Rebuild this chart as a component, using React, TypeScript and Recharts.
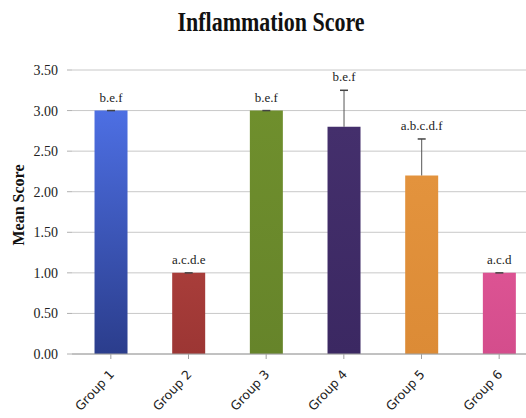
import React from "react";
import { BarChart, Bar, XAxis, YAxis, CartesianGrid, Cell, LabelList } from "recharts";

const groups = ["Group 1", "Group 2", "Group 3", "Group 4", "Group 5", "Group 6"];
const meanScores = [3.0, 1.0, 3.0, 2.8, 2.2, 1.0];
const errUpper = [0, 0, 0, 0.45, 0.45, 0];
const sigLetters = ["b.e.f", "a.c.d.e", "b.e.f", "b.e.f", "a.b.c.d.f", "a.c.d"];
const yTicks = [0, 0.5, 1, 1.5, 2, 2.5, 3, 3.5];

const barTop = ["#4d6fe3", "#a83d3a", "#6f8f2d", "#442f6c", "#e3933d", "#dc5393"];
const barBottom = ["#2b3d8c", "#9c3634", "#66842a", "#3b2862", "#dc8b36", "#d44d8c"];

const data = groups.map((g, i) => ({
  name: g,
  value: meanScores[i],
  letters: sigLetters[i],
}));

const XTick = (props: any) => {
  const { x, y, payload } = props;
  const ax = x + 4;
  const ay = y + 14;
  return (
    <text
      x={ax}
      y={ay}
      textAnchor="end"
      transform={`rotate(-47 ${ax} ${ay})`}
      fontFamily="'DejaVu Sans', sans-serif"
      fontSize={12.5}
      fill="#222"
    >
      {payload.value}
    </text>
  );
};

const YTick = (props: any) => {
  const { x, y, payload } = props;
  return (
    <text x={x} y={y + 5} textAnchor="end" fontFamily="'Liberation Serif', serif" fontSize={14} fill="#222">
      {Number(payload.value).toFixed(2)}
    </text>
  );
};

// Upper error whisker + significance letters, positioned from the bar geometry
const LetterLabel = (props: any) => {
  const { x, y, width, height, value, index } = props;
  const v = meanScores[index];
  const top = y - (errUpper[index] * height) / v;
  const cx = x + width / 2;
  return (
    <g>
      {errUpper[index] > 0 && <line x1={cx} y1={y} x2={cx} y2={top} stroke="#555" strokeWidth={1} />}
      <line x1={cx - 4} y1={top} x2={cx + 4} y2={top} stroke="#444" strokeWidth={1.5} />
      <text
        x={cx}
        y={top - 9}
        textAnchor="middle"
        fontFamily="'Liberation Serif', serif"
        fontSize={13}
        fill="#222"
      >
        {value}
      </text>
    </g>
  );
};

export default function App() {
  return (
    <div style={{ position: "absolute", left: 0, top: 0, width: 526, height: 418, overflow: "hidden", background: "#fff" }}>
      <div
        style={{
          position: "absolute",
          left: 8,
          top: 10,
          width: 526,
          textAlign: "center",
          fontFamily: "'Liberation Serif', serif",
          fontWeight: "bold",
          fontSize: 22,
          lineHeight: "26px",
          color: "#111",
          transform: "scaleY(1.2)",
        }}
      >
        Inflammation Score
      </div>
      <div
        style={{
          position: "absolute",
          left: 19,
          top: 205,
          transform: "translate(-50%, -50%) rotate(-90deg)",
          whiteSpace: "nowrap",
          fontFamily: "'Liberation Serif', serif",
          fontWeight: "bold",
          fontSize: 16,
          color: "#111",
        }}
      >
        Mean Score
      </div>
      <BarChart
        width={540}
        height={418}
        data={data}
        margin={{ top: 70, right: 2, bottom: 4, left: 12 }}
        barCategoryGap="29%"
      >
        <defs>
          {groups.map((g, i) => (
            <linearGradient key={g} id={`grad${i}`} x1="0" y1="0" x2="0" y2="1">
              <stop offset="0%" stopColor={barTop[i]} />
              <stop offset="100%" stopColor={barBottom[i]} />
            </linearGradient>
          ))}
        </defs>
        <CartesianGrid vertical={false} stroke="#c8c8c8" />
        <XAxis
          dataKey="name"
          height={60}
          interval={0}
          stroke="#a0a0a0"
          tickSize={5}
          tick={<XTick />}
        />
        <YAxis
          width={60}
          domain={[0, 3.5]}
          ticks={yTicks}
          axisLine={false}
          tickLine={{ stroke: "#b0b0b0" }}
          tickSize={5}
          tickMargin={9}
          tick={<YTick />}
        />
        <Bar dataKey="value" isAnimationActive={false}>
          {data.map((d, i) => (
            <Cell key={d.name} fill={`url(#grad${i})`} />
          ))}
          <LabelList dataKey="letters" content={<LetterLabel />} />
        </Bar>
      </BarChart>
    </div>
  );
}
